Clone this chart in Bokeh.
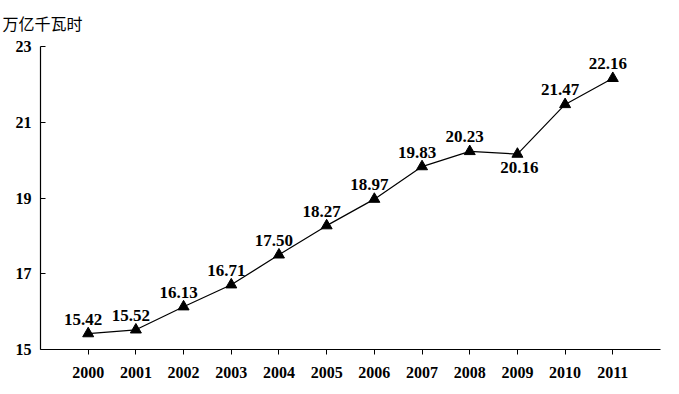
from bokeh.plotting import figure
from bokeh.models import ColumnDataSource, FixedTicker, Title
from bokeh.core.properties import value
from bokeh.embed import file_html
from bokeh.resources import INLINE

years = [2000, 2001, 2002, 2003, 2004, 2005, 2006, 2007, 2008, 2009, 2010, 2011]
consumption = [15.42, 15.52, 16.13, 16.71, 17.50, 18.27, 18.97, 19.83, 20.23, 20.16, 21.47, 22.16]
y_ticks = [15, 17, 19, 21, 23]
unit_label = "万亿千瓦时"
below_years = [2009]

labels = ["%.2f" % v for v in consumption]
above = [i for i, yr in enumerate(years) if yr not in below_years]
below = [i for i, yr in enumerate(years) if yr in below_years]

src_all = ColumnDataSource(dict(x=years, y=consumption))
src_above = ColumnDataSource(dict(x=[years[i] for i in above], y=[consumption[i] for i in above],
                                  t=[labels[i] for i in above]))
src_below = ColumnDataSource(dict(x=[years[i] for i in below], y=[consumption[i] for i in below],
                                  t=[labels[i] for i in below]))

p = figure(width=675, height=390, output_backend="svg", toolbar_location=None,
           x_range=(1999, 2012), y_range=(15, 23),
           min_border_left=40, min_border_right=15, min_border_top=45, min_border_bottom=41)
p.outline_line_color = None
p.xgrid.visible = False
p.ygrid.visible = False
p.background_fill_color = "white"
p.border_fill_color = "white"

t = Title(text=unit_label, align="left", offset=-38, standoff=20, vertical_align="top",
          text_font="Noto Sans CJK SC", text_font_size="16px", text_font_style="normal",
          text_color="black")
p.add_layout(t, "above")

p.line("x", "y", source=src_all, line_color="black", line_width=1.2)
p.scatter("x", "y", source=src_all, marker="triangle", size=11, fill_color="black", line_color="black")

font = value("Liberation Serif")
p.text("x", "y", text="t", source=src_above, text_font=font, text_font_style="bold",
       text_font_size="17px", text_align="center", text_baseline="bottom",
       x_offset=-5, y_offset=-9, text_color="black")
p.text("x", "y", text="t", source=src_below, text_font=font, text_font_style="bold",
       text_font_size="17px", text_align="center", text_baseline="top",
       x_offset=2, y_offset=8, text_color="black")

p.xaxis.ticker = FixedTicker(ticks=years)
p.yaxis.ticker = FixedTicker(ticks=y_ticks)
for ax in (p.xaxis[0], p.yaxis[0]):
    ax.major_label_text_font = "Liberation Serif"
    ax.major_label_text_font_style = "bold"
    ax.major_label_text_font_size = "16px"
    ax.major_label_text_color = "black"
    ax.axis_line_color = "black"
    ax.axis_line_width = 1.2
    ax.major_tick_line_color = "black"
    ax.minor_tick_line_color = None
p.xaxis.major_tick_in = 0
p.xaxis.major_tick_out = 5
p.xaxis.major_label_standoff = 12
p.yaxis.major_tick_in = 5
p.yaxis.major_tick_out = 0
p.yaxis.major_label_standoff = 9

open("out.html", "w").write(file_html(p, INLINE))
